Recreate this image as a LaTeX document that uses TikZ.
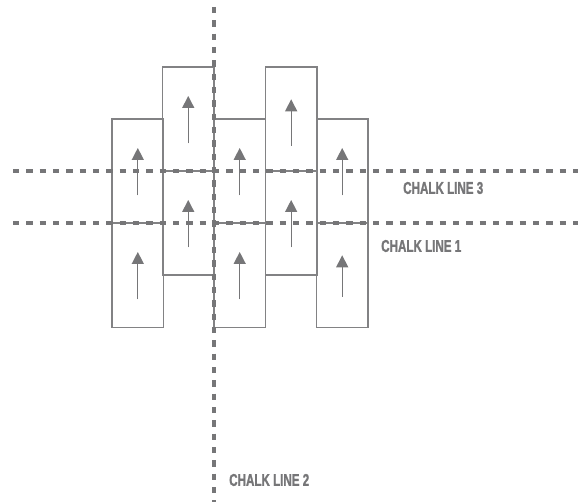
\documentclass[tikz,border=0pt]{standalone}
\usepackage{fontspec}
\usetikzlibrary{positioning,arrows.meta}
\newfontfamily\chalkfont[FakeStretch=0.68, FakeBold=1.4]{Liberation Sans Bold}
\definecolor{chalkgray}{RGB}{118,118,120}
\definecolor{boxgray}{RGB}{130,130,132}
\begin{document}
\begin{tikzpicture}[x=0.75pt, y=-0.75pt, node distance=0pt]
        \tikzstyle{cell}=[draw=boxgray, line width=1.2pt, minimum width=38.6pt, minimum height=78pt, inner sep=0pt, outer sep=0pt]
        \tikzstyle{uparrow}=[draw=chalkgray, line width=1pt, -{Triangle[length=9pt,width=9pt]}]
        \tikzstyle{chalk}=[draw=chalkgray, line width=2.4pt, dash pattern=on 4.8pt off 5.2pt]
        \tikzstyle{label}=[anchor=west, inner sep=0pt, text=chalkgray, font=\chalkfont\fontsize{12.8}{14}\selectfont]
        \useasboundingbox (0,0) rectangle (578,502);
        % low columns
        \node [cell] (a1) at (137.8,171.3) {};
        \node [cell, below=of a1] (a2) {};
        \node [cell] (c1) at (239.7,171.3) {};
        \node [cell, below=of c1] (c2) {};
        \node [cell] (e1) at (342.2,171.3) {};
        \node [cell, below=of e1] (e2) {};
        % high columns
        \node [cell, left=of c1.north west, anchor=north east, yshift=39pt] (b1) {};
        \node [cell, below=of b1] (b2) {};
        \node [cell, right=of c1.north east, anchor=north west, yshift=39pt] (d1) {};
        \node [cell, below=of d1] (d2) {};
        % arrows
        \draw [uparrow] ([yshift=-18pt]a1.center) -- ([yshift=17.5pt]a1.center);
        \draw [uparrow] ([yshift=-18pt]a2.center) -- ([yshift=17.5pt]a2.center);
        \draw [uparrow] ([yshift=-18pt]b1.center) -- ([yshift=17.5pt]b1.center);
        \draw [uparrow] ([yshift=-18pt]b2.center) -- ([yshift=17.5pt]b2.center);
        \draw [uparrow] ([yshift=-18pt]c1.center) -- ([yshift=17.5pt]c1.center);
        \draw [uparrow] ([yshift=-18pt]c2.center) -- ([yshift=17.5pt]c2.center);
        \draw [uparrow] ([yshift=-20pt]d1.center) -- ([yshift=15pt]d1.center);
        \draw [uparrow] ([yshift=-18pt]d2.center) -- ([yshift=17.5pt]d2.center);
        \draw [uparrow] ([yshift=-18pt]e1.center) -- ([yshift=17.5pt]e1.center);
        \draw [uparrow] ([yshift=-16pt]e2.center) -- ([yshift=15pt]e2.center);
        % chalk lines
        \coordinate (l3w) at (13,171);
        \coordinate (l3e) at (578,171);
        \coordinate (l1w) at (13,223);
        \coordinate (l1e) at (578,223);
        \coordinate (l2n) at (214,7);
        \coordinate (l2s) at (214,502);
        \draw [chalk] (l3w) -- (l3e);
        \draw [chalk] (l1w) -- (l1e);
        \draw [chalk] (l2n) -- (l2s);
        \node [label] (lab3) at (403,188) {CHALK LINE 3};
        \node [label] (lab1) at (381,246) {CHALK LINE 1};
        \node [label] (lab2) at (229,480) {CHALK LINE 2};
    \end{tikzpicture}
\end{document}
